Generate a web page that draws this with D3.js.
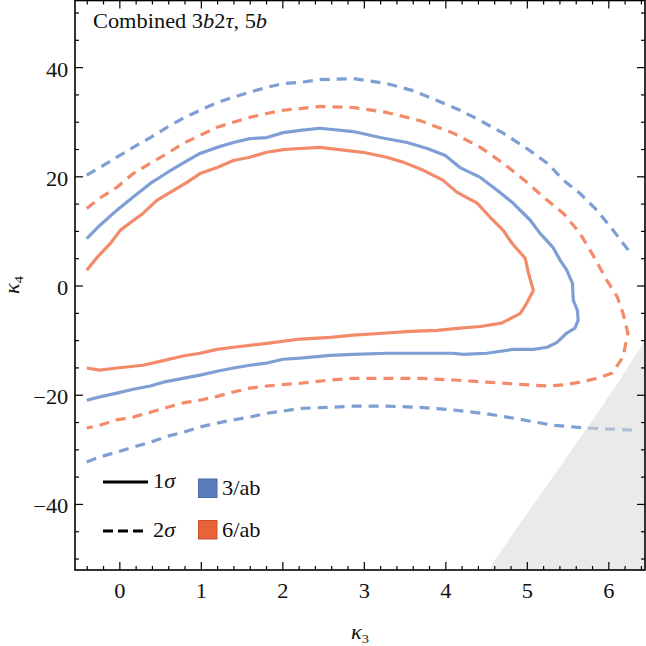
<!DOCTYPE html>
<html><head><meta charset="utf-8">
<script src="https://cdn.jsdelivr.net/npm/d3@7"></script>
<style>body{margin:0;background:#fff}svg{display:block}text{font-family:"Liberation Serif",serif;fill:#111}</style>
</head><body>
<svg id="c" width="646" height="646"></svg>
<script>
// ---- data (kappa3, kappa4) ----
const blue1sigma = [[-0.40,8.6],[-0.24,11.0],[-0.03,13.8],[0.17,16.2],[0.38,18.7],[0.59,20.7],[0.78,22.4],[0.99,24.2],[1.20,25.3],[1.40,26.2],[1.60,26.9],[1.81,27.1],[2.01,28.0],[2.22,28.4],[2.46,28.8],[2.87,28.2],[3.20,27.1],[3.53,26.2],[3.78,25.1],[4.00,23.8],[4.18,21.6],[4.43,19.8],[4.64,17.4],[4.83,15.1],[5.04,12.0],[5.16,9.6],[5.32,7.0],[5.41,4.6],[5.49,2.8],[5.56,0.4],[5.57,-2.7],[5.62,-4.5],[5.63,-6.4],[5.59,-7.8],[5.49,-8.7],[5.37,-10.4],[5.25,-11.3],[5.08,-11.7],[4.83,-11.7],[4.51,-12.4],[4.22,-12.6],[4.09,-12.4],[3.69,-12.4],[3.29,-12.4],[2.87,-12.6],[2.59,-12.8],[2.22,-13.3],[2.01,-13.5],[1.81,-14.2],[1.60,-14.6],[1.40,-15.1],[1.20,-15.7],[0.99,-16.4],[0.78,-17.0],[0.54,-17.7],[0.38,-18.4],[0.17,-19.0],[-0.03,-19.7],[-0.24,-20.4],[-0.40,-21.0]];
const orange1sigma = [[-0.40,2.8],[-0.27,5.2],[-0.11,7.7],[0.01,10.1],[0.17,11.9],[0.29,13.2],[0.46,15.6],[0.66,17.4],[0.83,18.9],[0.99,20.5],[1.20,21.6],[1.40,22.9],[1.60,23.5],[1.81,24.4],[2.01,24.9],[2.22,25.1],[2.46,25.3],[2.99,24.4],[3.28,23.5],[3.48,22.6],[3.73,21.1],[3.97,19.3],[4.14,17.1],[4.39,15.1],[4.55,12.5],[4.71,10.1],[4.82,7.7],[4.98,5.0],[5.02,2.3],[5.08,-0.9],[5.00,-3.2],[4.92,-5.1],[4.69,-6.9],[4.43,-7.5],[4.18,-7.8],[3.90,-8.2],[3.57,-8.4],[3.28,-8.7],[2.87,-9.1],[2.59,-9.5],[2.22,-9.8],[1.81,-10.6],[1.40,-11.3],[1.20,-11.7],[0.99,-12.4],[0.78,-12.9],[0.50,-13.9],[0.29,-14.6],[-0.03,-15.1],[-0.24,-15.5],[-0.40,-15.1]];
const orange2sigma = [[-0.40,14.1],[-0.24,16.0],[-0.03,18.0],[0.17,20.5],[0.38,22.4],[0.59,24.2],[0.78,26.0],[0.99,27.5],[1.20,29.0],[1.40,29.9],[1.60,30.8],[1.81,31.5],[2.01,32.1],[2.22,32.4],[2.46,32.8],[2.87,32.6],[3.28,31.7],[3.69,30.2],[4.10,27.9],[4.43,25.3],[4.71,22.4],[5.00,18.9],[5.25,15.6],[5.45,13.2],[5.65,9.6],[5.81,5.6],[5.98,1.0],[6.11,-2.1],[6.18,-5.1],[6.24,-8.7],[6.18,-13.1],[6.05,-16.0],[5.86,-17.0],[5.65,-17.7],[5.45,-18.2],[5.25,-18.4],[4.92,-18.1],[4.51,-17.7],[4.10,-17.3],[3.69,-17.0],[3.28,-17.0],[2.87,-17.0],[2.59,-17.3],[2.22,-17.9],[1.81,-18.4],[1.60,-18.8],[1.40,-19.5],[1.20,-20.3],[0.99,-21.0],[0.78,-21.5],[0.59,-22.3],[0.38,-23.2],[0.17,-24.1],[-0.03,-24.6],[-0.24,-25.6],[-0.40,-26.1]];
const blue2sigmaUpper = [[-0.40,20.2],[-0.24,21.6],[-0.03,23.5],[0.17,25.3],[0.38,27.1],[0.59,29.0],[0.78,30.6],[0.99,32.1],[1.20,33.5],[1.40,34.5],[1.60,35.4],[1.81,36.3],[2.01,37.0],[2.22,37.2],[2.46,37.7],[2.87,37.9],[3.28,37.0],[3.60,35.7],[3.90,33.9],[4.18,32.1],[4.43,30.2],[4.71,27.9],[5.00,25.1],[5.25,22.4],[5.45,19.3],[5.65,16.9],[5.86,13.8],[6.06,10.1],[6.29,5.6]];
const blue2sigmaLower = [[-0.40,-32.3],[-0.24,-31.4],[-0.03,-30.5],[0.17,-29.6],[0.38,-28.7],[0.59,-27.6],[0.78,-26.9],[0.99,-25.9],[1.20,-25.2],[1.40,-24.6],[1.60,-24.1],[1.81,-23.4],[2.01,-23.0],[2.22,-22.5],[2.59,-22.3],[2.87,-22.1],[3.28,-22.1],[3.69,-22.3],[4.10,-22.8],[4.51,-23.5],[4.92,-24.5],[5.32,-25.6],[5.74,-26.1],[6.06,-26.3],[6.29,-26.5]];
const excludedEdge = [[4.52,-53],[4.58,-50.8],[5.32,-35.0],[5.81,-24.6],[6.14,-17.3],[6.45,-10.0],[6.60,-7.3]];
const xTicks = [0,1,2,3,4,5,6];
const yTicks = [-40,-20,0,20,40];
const legendStyles = ["1σ","2σ"];
const legendLumi = ["3/ab","6/ab"];

const blueLine = "#7f9ed3", orangeLine = "#f38a69";
const blueBox = "#5b7dbd", orangeBox = "#e9633a";

const svg = d3.select("#c");
const L=75,R=645,T=0.5,B=570;
const x = d3.scaleLinear().domain([-0.544,6.45]).range([L,R]);
const y = d3.scaleLinear().domain([-52.1,52.2]).range([B,T]);

svg.append("defs").append("clipPath").attr("id","clip")
  .append("rect").attr("x",L).attr("y",T).attr("width",R-L).attr("height",B-T);

const line = d3.line().x(d=>x(d[0])).y(d=>y(d[1]));
const g = svg.append("g").attr("clip-path","url(#clip)");

function draw(data,color,dashed){
  g.append("path").attr("d",line(data)).attr("fill","none")
   .attr("stroke",color).attr("stroke-width",3.2).attr("stroke-linejoin","round")
   .attr("stroke-dasharray",dashed?"10,7":null);
}
draw(blue2sigmaUpper,blueLine,true);
draw(blue2sigmaLower,blueLine,true);
draw(orange2sigma,orangeLine,true);
draw(blue1sigma,blueLine,false);
draw(orange1sigma,orangeLine,false);

// excluded region (drawn over lines, semi-transparent)
const poly = excludedEdge.concat([[6.8,-7.3],[6.8,-60],[4.5,-60]]);
g.append("path").attr("d",line(poly)+"Z").attr("fill","#d8d8d8").attr("fill-opacity",0.55);

// axes
const sx = "scale(1.12,1)";
const FS = 20;
function styleAxis(sel){
  sel.select(".domain").remove();
  sel.selectAll("line").attr("stroke","#000").attr("stroke-width",1.2);
  sel.selectAll("text").attr("font-size",FS).attr("fill","#111");
}
const minorX = d3.range(-0.4,6.41,0.2).filter(v=>Math.abs(v-Math.round(v))>0.01);
const ax = svg.append("g").attr("transform",`translate(0,${B})`)
  .call(d3.axisBottom(x).tickValues(xTicks).tickSize(-8).tickPadding(14).tickFormat(d3.format("d")));
styleAxis(ax); ax.selectAll("text").attr("transform",sx);
const axm = svg.append("g").attr("transform",`translate(0,${B})`)
  .call(d3.axisBottom(x).tickValues(minorX).tickSize(-4).tickFormat(""));
styleAxis(axm);
const axt = svg.append("g").attr("transform",`translate(0,${T})`)
  .call(d3.axisTop(x).tickValues(xTicks).tickSize(-8).tickFormat(""));
styleAxis(axt);
const axtm = svg.append("g").attr("transform",`translate(0,${T})`)
  .call(d3.axisTop(x).tickValues(minorX).tickSize(-4).tickFormat(""));
styleAxis(axtm);

const minorY = d3.range(-50,51,5).filter(v=>v%20!==0);
const ay = svg.append("g").attr("transform",`translate(${L},0)`)
  .call(d3.axisLeft(y).tickValues(yTicks).tickSize(-8).tickPadding(6).tickFormat(d=>d<0?"\u2212"+(-d):d));
styleAxis(ay); ay.selectAll("text").attr("transform",sx).attr("dy","0.45em");
const aym = svg.append("g").attr("transform",`translate(${L},0)`)
  .call(d3.axisLeft(y).tickValues(minorY).tickSize(-4).tickFormat(""));
styleAxis(aym);
const ayr = svg.append("g").attr("transform",`translate(${R},0)`)
  .call(d3.axisRight(y).tickValues(yTicks).tickSize(-8).tickFormat(""));
styleAxis(ayr);
const ayrm = svg.append("g").attr("transform",`translate(${R},0)`)
  .call(d3.axisRight(y).tickValues(minorY).tickSize(-4).tickFormat(""));
styleAxis(ayrm);

svg.append("rect").attr("x",L).attr("y",T).attr("width",R-L).attr("height",B-T)
  .attr("fill","none").attr("stroke","#000").attr("stroke-width",1.6);

// axis labels
const xl = svg.append("text").attr("transform",`translate(360,639) ${sx}`).attr("text-anchor","middle").attr("font-size",20);
xl.append("tspan").attr("font-style","italic").text("κ");
xl.append("tspan").attr("font-size",13).attr("dy",4).text("3");
const yl = svg.append("text").attr("transform",`translate(19,285) rotate(-90) scale(1.12,1)`).attr("text-anchor","middle").attr("font-size",20);
yl.append("tspan").attr("font-style","italic").text("κ");
yl.append("tspan").attr("font-size",13).attr("dy",4).text("4");

// title
const tt = svg.append("text").attr("transform",`translate(93,28) ${sx}`).attr("font-size",20);
tt.append("tspan").text("Combined 3");
tt.append("tspan").attr("font-style","italic").text("b");
tt.append("tspan").text("2");
tt.append("tspan").attr("font-style","italic").text("τ");
tt.append("tspan").text(", 5");
tt.append("tspan").attr("font-style","italic").text("b");

// legend
const leg = svg.append("g");
legendStyles.forEach((lab,i)=>{
  const yy = 482 + i*49;
  leg.append("line").attr("x1",103).attr("x2",i?143:148).attr("y1",yy).attr("y2",yy)
    .attr("stroke","#000").attr("stroke-width",3).attr("stroke-dasharray",i?"10,5":null);
  const t = leg.append("text").attr("transform",`translate(153,${yy+6}) ${sx}`).attr("font-size",20);
  t.append("tspan").text(lab[0]);
  t.append("tspan").attr("font-style","italic").text(lab.slice(1));
});
legendLumi.forEach((lab,i)=>{
  const yy = 479 + i*41.5;
  leg.append("rect").attr("x",198.5).attr("y",yy).attr("width",18.5).attr("height",18.5)
    .attr("fill",i?orangeBox:blueBox).attr("stroke",i?"#c9532e":"#4a6aa6").attr("stroke-width",1);
  leg.append("text").attr("transform",`translate(222,${yy+16}) ${sx}`).attr("font-size",20).text(lab);
});
</script>
</body></html>
